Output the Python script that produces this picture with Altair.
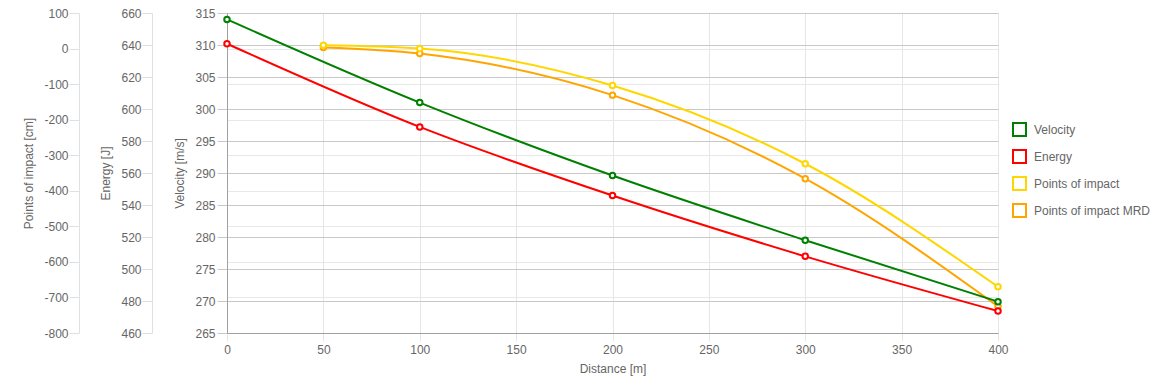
import altair as alt
import pandas as pd

# ---- data ----
distance = [0, 100, 200, 300, 400]
velocity = [314.0, 301.0, 289.6, 279.5, 269.9]
energy = [640.8, 588.8, 545.9, 507.9, 473.7]
poi_distance = [50, 100, 200, 300, 400]
poi = [9, 0, -104, -324, -670]
poi_mrd = [3, -14, -131, -366, -725]

series_names = ["Velocity", "Energy", "Points of impact", "Points of impact MRD"]
series_colors = ["#008000", "#ff0000", "#ffd700", "#ffa500"]

x_ticks = [0, 50, 100, 150, 200, 250, 300, 350, 400]
v_ticks = [265, 270, 275, 280, 285, 290, 295, 300, 305, 310, 315]
e_ticks = [460, 480, 500, 520, 540, 560, 580, 600, 620, 640, 660]
p_ticks = [100, 0, -100, -200, -300, -400, -500, -600, -700, -800]

FONT = "Liberation Sans"
TXT = "#666666"
W, H = 771, 320

df_v = pd.DataFrame({"d": distance, "v": velocity, "series": "Velocity"})
df_e = pd.DataFrame({"d": distance, "v": energy, "series": "Energy"})
df_p = pd.DataFrame({"d": poi_distance, "v": poi, "series": "Points of impact"})
df_m = pd.DataFrame({"d": poi_distance, "v": poi_mrd, "series": "Points of impact MRD"})

xenc = alt.X(
    "d:Q",
    scale=alt.Scale(domain=[0, 400], nice=False, zero=False),
    axis=alt.Axis(
        title="Distance [m]", values=x_ticks, grid=True, gridColor="#e6e6e6",
        domainColor="#a0a0a0", tickColor="#e6e6e6", tickSize=8, labelPadding=3,
        labelFont=FONT, labelFontSize=12, labelColor=TXT,
        titleFont=FONT, titleFontSize=12, titleColor=TXT, titleFontWeight="normal",
        titleY=35, titleBaseline="middle", labelFlush=False,
    ),
)

color = alt.Color(
    "series:N",
    scale=alt.Scale(domain=series_names, range=series_colors),
    legend=alt.Legend(
        title=None, orient="none", legendX=785, legendY=109,
        symbolType="square", symbolSize=169, symbolStrokeWidth=2,
        symbolFillColor="white", labelFont=FONT, labelFontSize=12,
        labelColor=TXT, labelOffset=7, rowPadding=6, padding=0,
    ),
)


def yenc(title, domain, values, offset, title_x, grid, grid_color, domain_color, tick_color, label_pad):
    return alt.Y(
        "v:Q",
        scale=alt.Scale(domain=domain, nice=False, zero=False),
        axis=alt.Axis(
            title=title, orient="left", offset=offset, values=values,
            labelExpr="'' + datum.value",
            grid=grid, gridColor=grid_color, domainColor=domain_color,
            tickColor=tick_color, tickSize=10, labelPadding=label_pad,
            labelFont=FONT, labelFontSize=12, labelColor=TXT,
            titleFont=FONT, titleFontSize=12, titleColor=TXT, titleFontWeight="normal",
            titleX=title_x, titleY=H / 2, titleAngle=270, titleAlign="center",
            titleBaseline="middle", labelFlush=False,
        ),
    )


def series_layers(df, y):
    line = alt.Chart(df).mark_line(strokeWidth=2, interpolate="monotone").encode(x=xenc, y=y, color=color)
    pts = alt.Chart(df).mark_point(filled=False, fill="white", size=30, strokeWidth=2, opacity=1).encode(
        x=xenc, y=y, color=color
    )
    return [line, pts]


y_v = yenc("Velocity [m/s]", [265, 315], v_ticks, 0, -47.5, True, "#c8c8c8", "#a0a0a0", "#c8c8c8", 2)
y_e = yenc("Energy [J]", [460, 660], e_ticks, 75, -47, False, "#e6e6e6", "#e0e0e0", "#e0e0e0", 1)
y_p = yenc("Points of impact [cm]", [-800, 100], p_ticks, 148, -51, True, "#e8e8e8", "#e0e0e0", "#e0e0e0", 1)

poi_group = alt.layer(*series_layers(df_m, y_p), *series_layers(df_p, y_p))
energy_group = alt.layer(*series_layers(df_e, y_e))
vel_group = alt.layer(*series_layers(df_v, y_v))

chart = (
    alt.layer(poi_group, energy_group, vel_group)
    .resolve_scale(y="independent")
    .properties(
        width=W, height=H,
        autosize=alt.AutoSizeParams(type="none"),
        padding={"left": 219, "top": 5, "right": 154, "bottom": 45},
    )
    .configure_view(stroke=None)
    .configure(background="white")
)

chart.save("out.html", embed_options={"renderer": "svg", "actions": False})
